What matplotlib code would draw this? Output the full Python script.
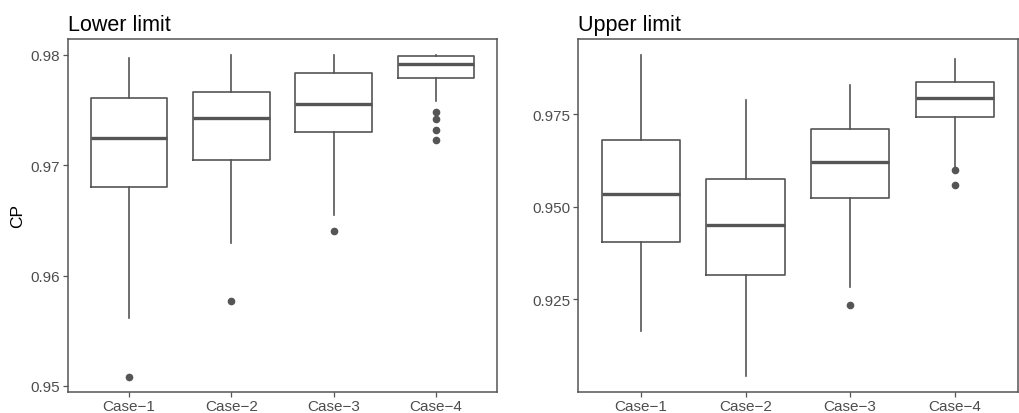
import matplotlib
matplotlib.use("Agg")
import matplotlib.pyplot as plt

plt.rcParams['font.family'] = ['Liberation Sans', 'DejaVu Sans']

categories = ["Case\u22121", "Case\u22122", "Case\u22123", "Case\u22124"]

# Lower limit panel
lower_whislo = [0.95619, 0.96296, 0.96547, 0.97583]
lower_q1 = [0.96798, 0.97045, 0.97302, 0.97785]
lower_med = [0.97242, 0.97426, 0.97550, 0.97915]
lower_q3 = [0.97607, 0.97659, 0.97831, 0.97988]
lower_whishi = [0.97967, 0.97994, 0.97994, 0.97997]
lower_fliers = [[0.95085], [0.95773], [0.96399], [0.97477, 0.97417, 0.97317, 0.97227]]
lower_ticks = [0.95, 0.96, 0.97, 0.98]
lower_ticklabels = ["0.95", "0.96", "0.97", "0.98"]

# Upper limit panel
upper_whislo = [0.91653, 0.90428, 0.92833, 0.96070]
upper_q1 = [0.94041, 0.93149, 0.95248, 0.97437]
upper_med = [0.95347, 0.94509, 0.96203, 0.97941]
upper_q3 = [0.96806, 0.95743, 0.97095, 0.98383]
upper_whishi = [0.99095, 0.97878, 0.98284, 0.98986]
upper_fliers = [[], [], [0.92347], [0.95986, 0.95590]]
upper_ticks = [0.925, 0.950, 0.975]
upper_ticklabels = ["0.925", "0.950", "0.975"]

LINE = "#555555"
TXT = "#4d4d4d"

W, H = 1019, 414
fig = plt.figure(figsize=(W / 100, H / 100), dpi=100)


def make_stats(wlo, q1, med, q3, whi, fl):
    out = []
    for i in range(len(categories)):
        out.append(dict(label=categories[i], whislo=wlo[i], q1=q1[i], med=med[i],
                        q3=q3[i], whishi=whi[i], fliers=fl[i]))
    return out


def draw(ax, stats, ylim, ticks, ticklabels, title, ylabel=None):
    ax.bxp(stats, positions=range(1, len(categories) + 1), widths=0.75,
           showcaps=False, patch_artist=False,
           boxprops=dict(color=LINE, linewidth=1.2),
           whiskerprops=dict(color=LINE, linewidth=1.2),
           medianprops=dict(color=LINE, linewidth=2.4, solid_capstyle='butt'),
           flierprops=dict(marker='o', markerfacecolor=LINE, markeredgecolor=LINE,
                           markersize=4.5, linestyle='none'))
    ax.set_xlim(0.4, 4.6)
    ax.set_ylim(*ylim)
    ax.set_yticks(ticks)
    ax.set_yticklabels(ticklabels)
    ax.set_xticks(range(1, len(categories) + 1))
    ax.set_xticklabels(categories)
    ax.tick_params(axis='both', colors=LINE, labelcolor=TXT, labelsize=11,
                   length=3.5, width=0.9, pad=2)
    for s in ax.spines.values():
        s.set_color(LINE)
        s.set_linewidth(1.1)
    ax.set_title(title, loc='left', fontsize=15.5, color='black', pad=6)
    if ylabel:
        ax.set_ylabel(ylabel, fontsize=12.5, color='black', labelpad=4)


ax1 = fig.add_axes([67.7 / W, 1 - 392.7 / H, (497.3 - 67.7) / W, (392.7 - 39.7) / H])
ax2 = fig.add_axes([578.3 / W, 1 - 392.7 / H, (1017.5 - 578.3) / W, (392.7 - 39.7) / H])

draw(ax1, make_stats(lower_whislo, lower_q1, lower_med, lower_q3, lower_whishi, lower_fliers),
     (0.94948, 0.98145), lower_ticks, lower_ticklabels, "Lower limit", "CP")
draw(ax2, make_stats(upper_whislo, upper_q1, upper_med, upper_q3, upper_whishi, upper_fliers),
     (0.90005, 0.99545), upper_ticks, upper_ticklabels, "Upper limit")

fig.savefig("out.png", dpi=100)
